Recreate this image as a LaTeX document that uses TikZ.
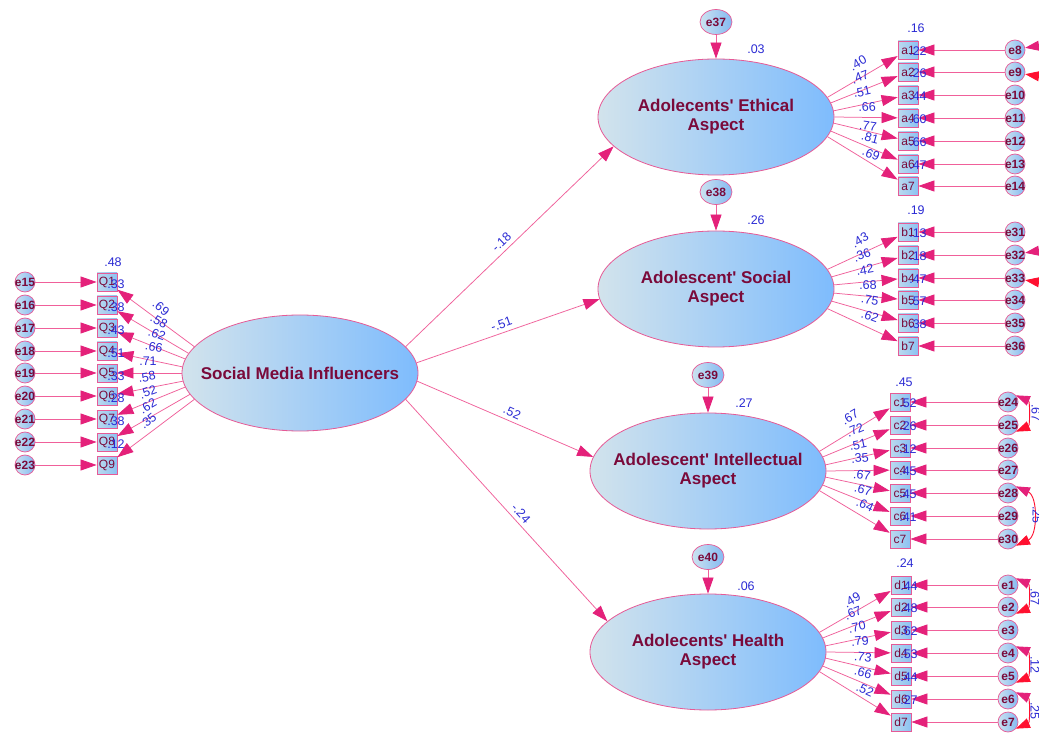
\documentclass[tikz,border=0pt]{standalone}
\usepackage{fontspec}
\setmainfont{Liberation Sans}
\usetikzlibrary{arrows.meta,shapes.geometric}
\definecolor{latL}{HTML}{D2E3EC}
\definecolor{latR}{HTML}{7EBCFD}
\definecolor{bord}{HTML}{E65A96}
\definecolor{maroon}{HTML}{7A0A3A}
\definecolor{numblue}{HTML}{2A2AD4}
\definecolor{linecol}{HTML}{F0609A}
\definecolor{headcol}{HTML}{E4217A}
\definecolor{covred}{HTML}{FF1030}
\definecolor{errL}{HTML}{CCE2F0}
\definecolor{errR}{HTML}{84BAF2}
\definecolor{boxL}{HTML}{BCD9EE}
\definecolor{boxR}{HTML}{8CC2F2}
\newcommand\zbox[1]{\makebox[0pt]{#1}}
\newcommand\apos{\textquotesingle}
\begin{document}
\begin{tikzpicture}[x=1pt,y=-1pt,
  lat/.style={ellipse, draw=bord, line width=0.8pt, left color=latL, right color=latR,
    minimum width=236pt, minimum height=116pt, inner sep=0pt},
  lattxt/.style={font=\fontsize{17}{19}\selectfont\bfseries, text=maroon, align=center, inner sep=0pt},
  err/.style={circle, draw=bord, line width=0.7pt, left color=errL, right color=errR,
    minimum size=20pt, inner sep=0pt, font=\fontsize{12}{13}\selectfont\bfseries, text=maroon},
  errbig/.style={ellipse, draw=bord, line width=0.7pt, left color=errL, right color=errR,
    minimum width=32pt, minimum height=25pt, inner sep=0pt, font=\fontsize{12}{13}\selectfont\bfseries, text=maroon},
  obs/.style={rectangle, draw=bord, line width=0.8pt, left color=boxL, right color=boxR,
    minimum width=20pt, minimum height=18pt, inner sep=0pt, font=\fontsize{12}{13}\selectfont, text=maroon},
  path/.style={draw=linecol, line width=0.75pt, -{Triangle[length=16pt,width=11pt,color=headcol]}},
  cov/.style={draw=covred, line width=0.9pt,
    {Triangle[length=14pt,width=10pt,color=headcol]}-{Triangle[length=14pt,width=10pt,color=covred]}},
  num/.style={font=\fontsize{12.5}{14}\selectfont, text=numblue, inner sep=0pt}
]
\fill[white] (0,0) rectangle (1039,735);
\useasboundingbox (0,0) rectangle (1039,735);

% latent variables
\node[lat, label={[lattxt]center:Social Media Influencers}] (smi) at (300,373) {};
\node[lat, label={[lattxt]center:{Adolecents\apos{} Ethical\\Aspect}}] (eth) at (716,117) {};
\node[lat, label={[lattxt]center:{Adolescent\apos{} Social\\Aspect}}] (soc) at (716,289) {};
\node[lat, label={[lattxt]center:{Adolescent\apos{} Intellectual\\Aspect}}] (int) at (708,471) {};
\node[lat, label={[lattxt]center:{Adolecents\apos{} Health\\Aspect}}] (hea) at (708,652) {};

% disturbances
\node[errbig] (e37) at (716,22) {\zbox{e37}};
\node[errbig] (e38) at (716,192) {\zbox{e38}};
\node[errbig] (e39) at (708,375) {\zbox{e39}};
\node[errbig] (e40) at (708,557) {\zbox{e40}};
\draw[path] (e37) -- (eth);
\draw[path] (e38) -- (soc);
\draw[path] (e39) -- (int);
\draw[path] (e40) -- (hea);
\node[num] (r37) at (756,49) {.03};
\node[num] (r38) at (756,220) {.26};
\node[num] (r39) at (744,403) {.27};
\node[num] (r40) at (746,586) {.06};

% structural paths
\draw[path] (smi.14) -- node[num, sloped, above=4pt, pos=0.49] (s1) {-.18} (eth.196);
\draw[path] (smi.5) -- node[num, sloped, above=4pt, pos=0.48] (s2) {-.51} (soc.185);
\draw[path] (smi.-4) -- node[num, sloped, above=4pt, pos=0.52] (s3) {.52} (int.173);
\draw[path] (smi.-14) -- node[num, sloped, above=4pt, pos=0.54] (s4) {-.24} (hea.163);

% left indicators
\foreach \q/\e/\y/\ang in {1/15/282/166, 2/16/305/170, 3/17/328/173, 4/18/351/177, 5/19/373/180,
  6/20/396/184, 7/21/419/187, 8/22/442/191, 9/23/465/194} {
  \node[err] (e\e) at (25,\y) {\zbox{e\e}};
  \node[obs] (Q\q) at (107,\y) {Q\q};
  \draw[path] (e\e) -- (Q\q);
  \draw[path] (smi.\ang) -- (Q\q);
}

% a indicators
\foreach \n/\e/\y/\ang in {1/8/50/10, 2/9/72/7, 3/10/95/3, 4/11/118/0, 5/12/141/-3, 6/13/164/-7, 7/14/186/-10} {
  \node[obs] (a\n) at (908,\y) {a\n};
  \node[err] (e\e) at (1015,\y) {\zbox{e\e}};
  \draw[path] (e\e) -- (a\n);
  \draw[path] (eth.\ang) -- (a\n);
}
% b indicators
\foreach \n/\e/\y/\ang in {1/31/232/10, 2/32/255/6, 4/33/278/2, 5/34/300/-2, 6/35/323/-6, 7/36/346/-10} {
  \node[obs] (b\n) at (908,\y) {b\n};
  \node[err] (e\e) at (1015,\y) {\zbox{e\e}};
  \draw[path] (e\e) -- (b\n);
  \draw[path] (soc.\ang) -- (b\n);
}
% c indicators
\foreach \n/\e/\y/\ang in {1/24/402/10, 2/25/425/7, 3/26/448/3, 4/27/470/0, 5/28/493/-3, 6/29/516/-7, 7/30/539/-10} {
  \node[obs] (c\n) at (900,\y) {c\n};
  \node[err] (e\e) at (1008,\y) {\zbox{e\e}};
  \draw[path] (e\e) -- (c\n);
  \draw[path] (int.\ang) -- (c\n);
}
% d indicators
\foreach \n/\e/\y/\ang in {1/1/585/10, 2/2/607/7, 3/3/630/3, 4/4/653/0, 5/5/676/-3, 6/6/699/-7, 7/7/722/-10} {
  \node[obs] (d\n) at (901,\y) {d\n};
  \node[err] (e\e) at (1008,\y) {\zbox{e\e}};
  \draw[path] (e\e) -- (d\n);
  \draw[path] (hea.\ang) -- (d\n);
}

% covariances
\draw[cov] (e8.12) .. controls +(20,-3) and +(20,3) .. (e9.-12);
\draw[cov] (e32.12) .. controls +(20,-3) and +(20,3) .. (e33.-12);
\draw[cov] (e24.40) .. controls +(14,6) and +(14,-6) .. (e25.-40);
\draw[cov] (e28.40) .. controls +(22,10) and +(22,-10) .. (e30.-40);
\draw[cov] (e1.40) .. controls +(14,6) and +(14,-6) .. (e2.-40);
\draw[cov] (e4.40) .. controls +(14,6) and +(14,-6) .. (e5.-40);
\draw[cov] (e6.40) .. controls +(14,6) and +(14,-6) .. (e7.-40);
\node[num, rotate=-90] (cv1) at (1036,413) {.67};
\node[num, rotate=-90] (cv2) at (1037,515) {.25};
\node[num, rotate=-90] (cv3) at (1035,597) {.67};
\node[num, rotate=-90] (cv4) at (1035,665) {.12};
\node[num, rotate=-90] (cv5) at (1035,711) {.25};

% left loadings and R2
\foreach \i/\x/\y/\r/\t in {1/161/308/-40/.69, 2/159/321/-30/.58, 3/157/334/-20/.62, 4/154/347/-10/.66,
  5/148/361/0/.71, 6/147/377/10/.58, 7/148/392/20/.52, 8/148/406/30/.62, 9/148/421/40/.35} {
  \node[num, rotate=\r] (lq\i) at (\x,\y) {\t};
}
\node[num] (rq1) at (113,262) {.48};
\foreach \i/\y/\t in {2/284/.33, 3/307/.38, 4/330/.43, 5/353/.51, 6/376/.33, 7/398/.28, 8/421/.38, 9/444/.12} {
  \node[num] (rq\i) at (116,\y) {\t};
}

% a loadings and R2
\foreach \i/\x/\y/\r/\t in {1/858/63/30/.40, 2/860/77/20/.47, 3/862/92/12/.51, 4/867/107/4/.66,
  5/868/126/-8/.77, 6/870/138/-15/.81, 7/871/154/-22/.69} {
  \node[num, rotate=\r] (la\i) at (\x,\y) {\t};
}
\node[num] (ra1) at (916,28) {.16};
\foreach \i/\y/\t in {2/51/.22, 3/73/.26, 4/96/.44, 5/119/.60, 6/142/.66, 7/165/.47} {
  \node[num] (ra\i) at (918,\y) {\t};
}

% b loadings and R2
\foreach \i/\x/\y/\r/\t in {1/860/240/30/.43, 2/862/255/20/.36, 3/865/270/10/.42, 4/868/285/2/.68,
  5/870/300/-10/.75, 6/870/316/-20/.62} {
  \node[num, rotate=\r] (lb\i) at (\x,\y) {\t};
}
\node[num] (rb1) at (916,210) {.19};
\foreach \i/\y/\t in {2/233/.13, 3/256/.18, 4/279/.47, 5/301/.57, 6/324/.38} {
  \node[num] (rb\i) at (918,\y) {\t};
}

% c loadings and R2
\foreach \i/\x/\y/\r/\t in {1/850/417/30/.67, 2/855/430/22/.72, 3/858/445/12/.51, 4/860/458/5/.35,
  5/862/475/-8/.67, 6/863/490/-15/.67, 7/865/505/-25/.64} {
  \node[num, rotate=\r] (lc\i) at (\x,\y) {\t};
}
\node[num] (rc1) at (904,382) {.45};
\foreach \i/\y/\t in {2/403/.52, 3/426/.26, 4/449/.12, 5/471/.45, 6/494/.45, 7/517/.41} {
  \node[num] (rc\i) at (908,\y) {\t};
}

% d loadings and R2
\foreach \i/\x/\y/\r/\t in {1/852/600/30/.49, 2/853/613/22/.67, 3/857/627/12/.70, 4/860/641/5/.79,
  5/863/657/-8/.73, 6/863/673/-15/.66, 7/865/690/-25/.52} {
  \node[num, rotate=\r] (ld\i) at (\x,\y) {\t};
}
\node[num] (rd1) at (905,563) {.24};
\foreach \i/\y/\t in {2/586/.44, 3/608/.48, 4/631/.62, 5/654/.53, 6/677/.44, 7/700/.27} {
  \node[num] (rd\i) at (909,\y) {\t};
}
\end{tikzpicture}
\end{document}
